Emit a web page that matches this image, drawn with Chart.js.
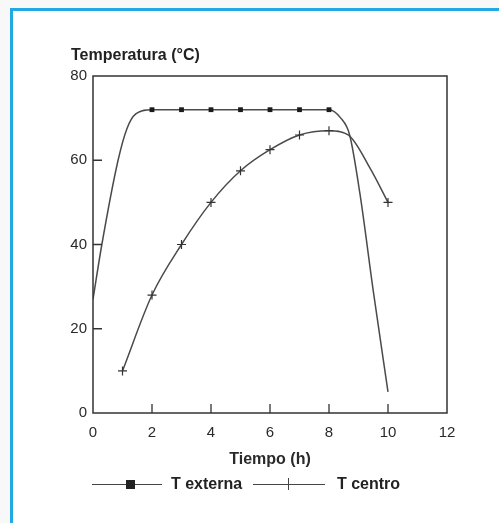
<!DOCTYPE html>
<html>
<head>
<meta charset="utf-8">
<script src="https://cdn.jsdelivr.net/npm/chart.js@4.4.1/dist/chart.umd.min.js"></script>
<style>
  html, body { margin: 0; padding: 0; }
  body { width: 499px; height: 523px; background: #f8f8f8; position: relative; overflow: hidden;
         font-family: "Liberation Sans", Arial, sans-serif; color: #222; }
  .frame { position: absolute; left: 10px; top: 8px; width: 520px; height: 540px;
           border-left: 3px solid #22a9e3; border-top: 3px solid #22a9e3; background: #fff; }
  #wrap { position: absolute; left: 0; top: 0; width: 499px; height: 523px; }
  .ylabel { position: absolute; left: 71px; top: 45px; font-weight: bold; font-size: 16px; line-height: 20px; white-space: nowrap; }
  .leg-line { position: absolute; height: 0; border-top: 1.5px solid #444; }
  .leg-sq { position: absolute; width: 9px; height: 9px; background: #222; }
  .leg-tick { position: absolute; width: 0; height: 12px; border-left: 1.5px solid #444; }
  .leg-text { position: absolute; font-weight: bold; font-size: 16px; line-height: 20px; white-space: nowrap; }
</style>
</head>
<body>
<div class="frame"></div>
<div id="wrap"><canvas id="chart" width="499" height="523"></canvas></div>
<div class="ylabel">Temperatura (°C)</div>

<div class="leg-line" style="left:92px; top:484px; width:70px;"></div>
<div class="leg-sq" style="left:126px; top:480px;"></div>
<div class="leg-text" style="left:171px; top:474px;">T externa</div>
<div class="leg-line" style="left:253px; top:484px; width:72px;"></div>
<div class="leg-tick" style="left:288px; top:478px;"></div>
<div class="leg-text" style="left:337px; top:474px;">T centro</div>

<script>
// Tiempo (h) / Temperatura (°C)
const externaX = [0, 0.3, 0.85, 1.15, 1.45, 2, 3, 4, 5, 6, 7, 8, 8.4, 8.7, 9.05, 9.5, 10];
const externaY = [27, 40, 60, 67.5, 71, 72, 72, 72, 72, 72, 72, 72, 70, 66, 52, 29, 5];
const externaMark = [0, 0, 0, 0, 0, 1, 1, 1, 1, 1, 1, 1, 0, 0, 0, 0, 0];

const centroX = [1, 2, 3, 4, 5, 6, 7, 8, 8.65, 9.4, 10];
const centroY = [10, 28, 40, 50, 57.5, 62.5, 66, 67, 66, 58, 50];
const centroMark = [1, 1, 1, 1, 1, 1, 1, 1, 0, 1, 1];
centroMark[9] = 0;

const xTicks = [0, 2, 4, 6, 8, 10, 12];
const yTicks = [0, 20, 40, 60, 80];

function toPoints(xs, ys) {
    return xs.map((x, i) => ({ x: x, y: ys[i] }));
}

const TEXT = '#2a2a2a';
const LINE = '#4a4a4a';

const boxAndTicks = {
    id: 'boxAndTicks',
    afterDatasetsDraw(chart) {
        const { ctx, chartArea: a, scales } = chart;
        ctx.save();
        ctx.strokeStyle = '#333';
        ctx.lineWidth = 1.5;
        ctx.strokeRect(a.left, a.top, a.right - a.left, a.bottom - a.top);
        ctx.lineWidth = 1.3;
        ctx.beginPath();
        yTicks.forEach(v => {
            if (v === yTicks[0] || v === yTicks[yTicks.length - 1]) return;
            const y = scales.y.getPixelForValue(v);
            ctx.moveTo(a.left, y);
            ctx.lineTo(a.left + 9, y);
        });
        xTicks.forEach(v => {
            if (v === xTicks[0] || v === xTicks[xTicks.length - 1]) return;
            const x = scales.x.getPixelForValue(v);
            ctx.moveTo(x, a.bottom);
            ctx.lineTo(x, a.bottom - 9);
        });
        ctx.stroke();
        ctx.restore();
    }
};

new Chart(document.getElementById('chart'), {
    type: 'line',
    data: {
        datasets: [{
            label: 'T externa',
            data: toPoints(externaX, externaY),
            borderColor: LINE,
            borderWidth: 1.5,
            cubicInterpolationMode: 'monotone',
            pointStyle: 'rect',
            pointRadius: externaMark.map(m => m ? 3.4 : 0),
            pointBackgroundColor: '#1a1a1a',
            pointBorderColor: '#1a1a1a',
            pointBorderWidth: 0
        }, {
            label: 'T centro',
            data: toPoints(centroX, centroY),
            borderColor: LINE,
            borderWidth: 1.5,
            cubicInterpolationMode: 'monotone',
            pointStyle: 'cross',
            pointRadius: centroMark.map(m => m ? 4.5 : 0),
            pointBorderColor: '#333',
            pointBorderWidth: 1.2
        }]
    },
    options: {
        responsive: false,
        animation: false,
        events: [],
        layout: { padding: { left: 0, top: 76, right: 52, bottom: 50 } },
        plugins: {
            legend: { display: false },
            tooltip: { enabled: false }
        },
        scales: {
            x: {
                type: 'linear',
                min: 0,
                max: 12,
                afterFit: s => { s.height = 60; },
                afterBuildTicks: s => { s.ticks = xTicks.map(v => ({ value: v })); },
                grid: { display: false, drawTicks: false },
                border: { display: false },
                ticks: {
                    color: TEXT,
                    padding: 11,
                    maxRotation: 0,
                    font: { family: "'Liberation Sans', Arial, sans-serif", size: 15 }
                },
                title: {
                    display: true,
                    text: 'Tiempo (h)',
                    color: TEXT,
                    padding: { top: 4, bottom: 4 },
                    font: { family: "'Liberation Sans', Arial, sans-serif", size: 16, weight: 'bold' }
                }
            },
            y: {
                min: 0,
                max: 80,
                afterFit: s => { s.width = 93; },
                afterBuildTicks: s => { s.ticks = yTicks.map(v => ({ value: v })); },
                grid: { display: false, drawTicks: false },
                border: { display: false },
                ticks: {
                    color: TEXT,
                    padding: 6,
                    font: { family: "'Liberation Sans', Arial, sans-serif", size: 15 }
                }
            }
        }
    },
    plugins: [boxAndTicks]
});
</script>
</body>
</html>
